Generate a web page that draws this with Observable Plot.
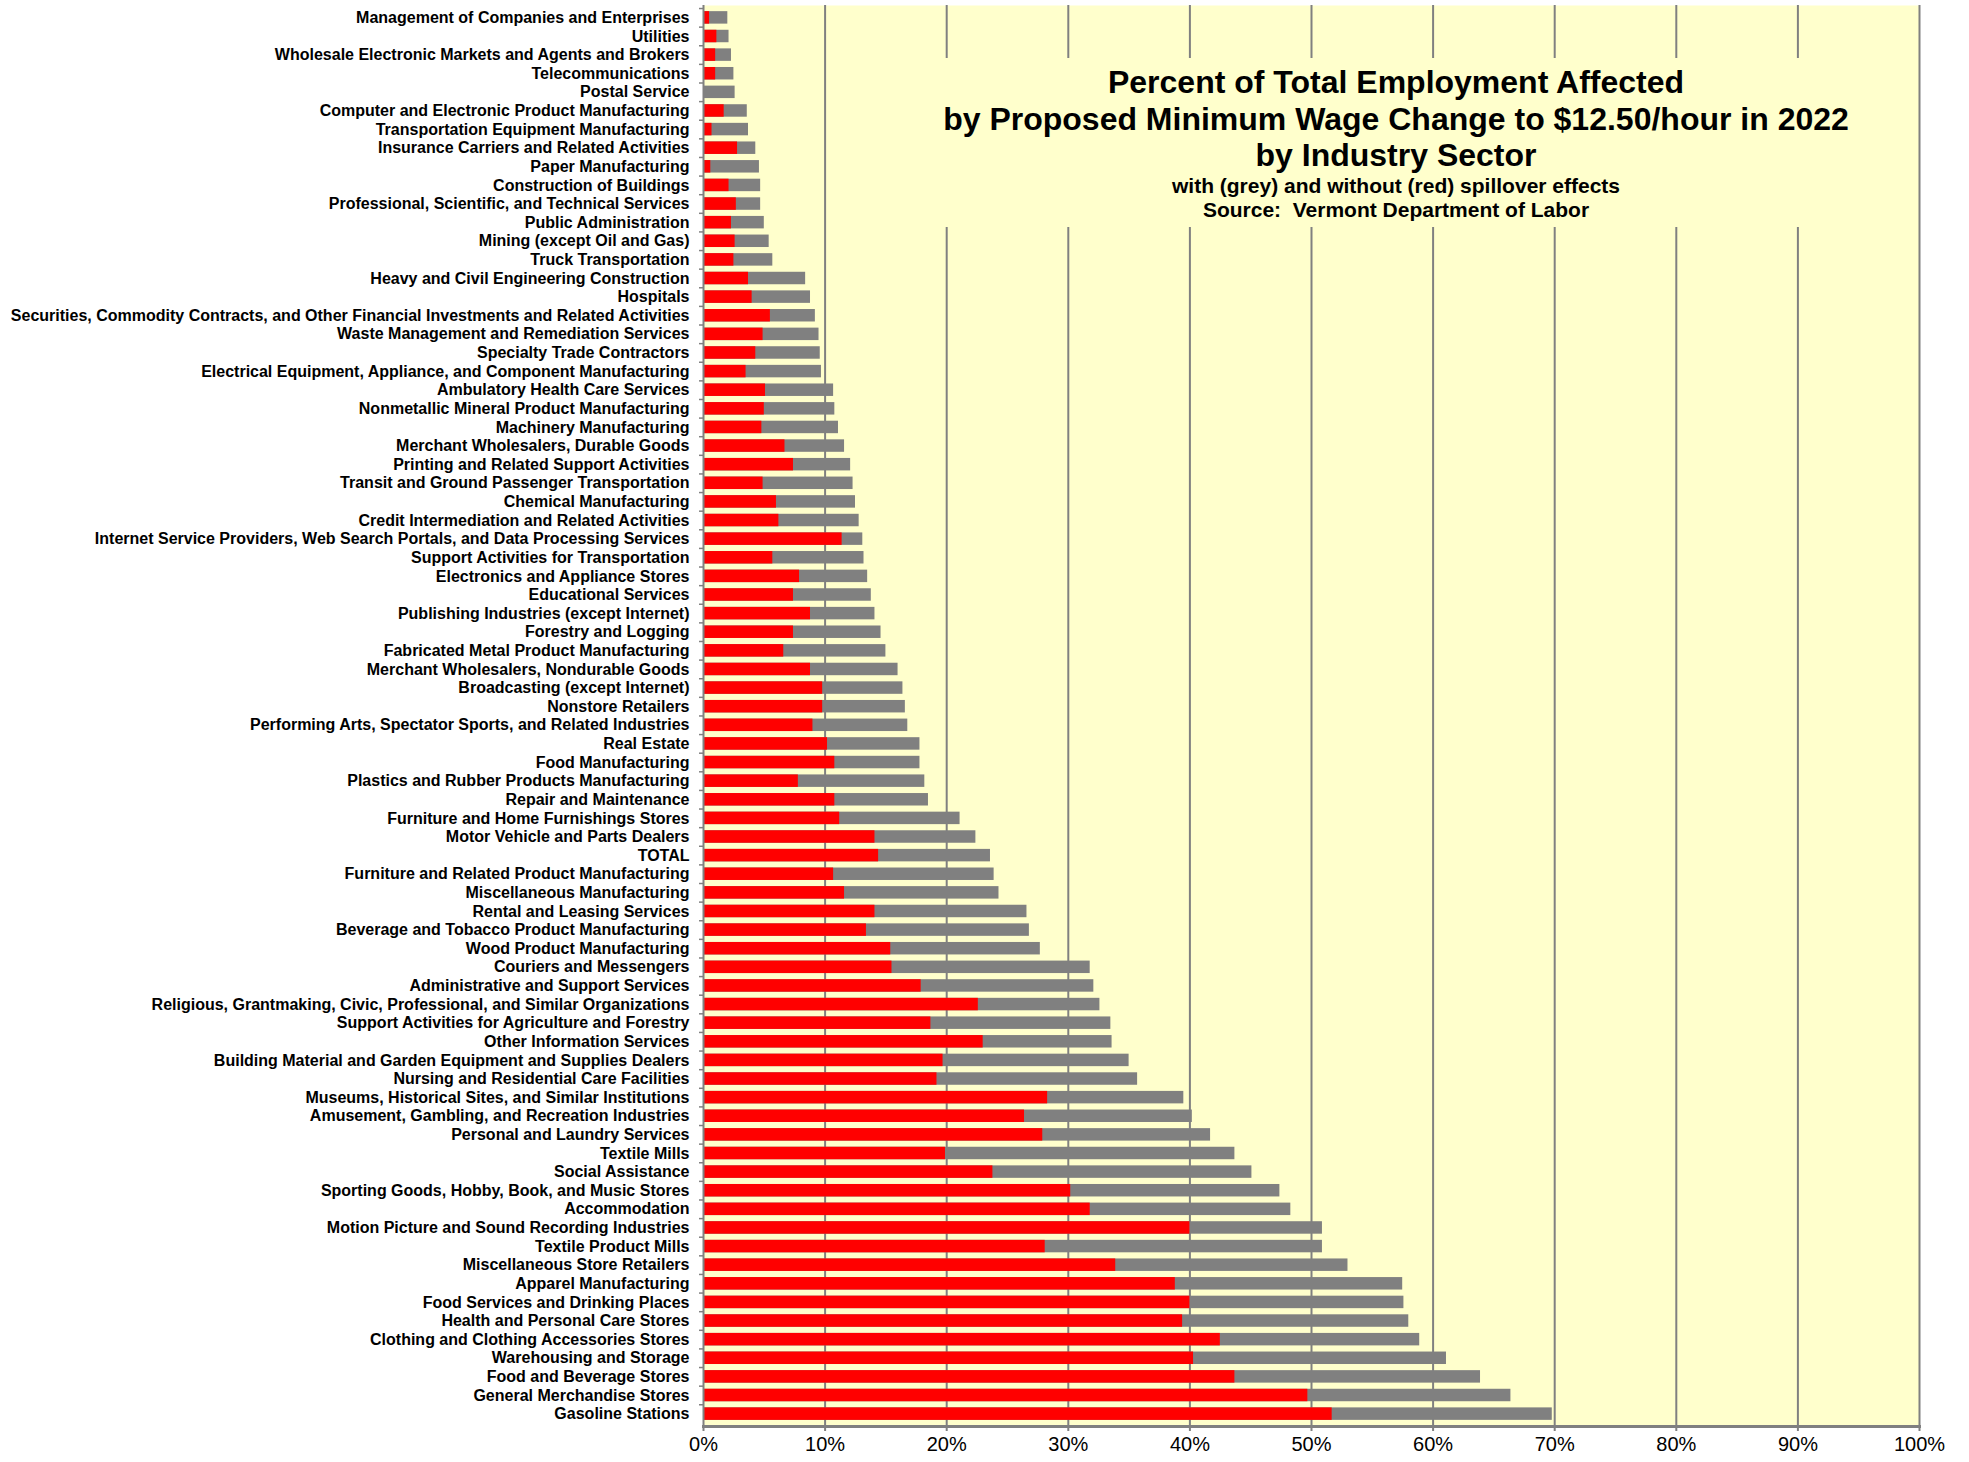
<!DOCTYPE html>
<html>
<head>
<meta charset="utf-8">
<script src="https://cdn.jsdelivr.net/npm/d3@7"></script>
<script src="https://cdn.jsdelivr.net/npm/@observablehq/plot@0.6"></script>
<style>
  html, body { margin: 0; padding: 0; background: #ffffff; }
  #wrap { position: relative; width: 1969px; height: 1462px; font-family: "Liberation Sans", Arial, sans-serif; }
  #titlebox {
    position: absolute; left: 880px; top: 58px; width: 1032px; height: 169px;
    background: #FFFFCC; text-align: center; color: #000; box-sizing: border-box; padding-top: 6px;
  }
  #titlebox .t { font-size: 32px; font-weight: bold; line-height: 36.5px; }
  #titlebox .s { font-size: 21px; font-weight: bold; line-height: 24px; }
</style>
</head>
<body>
<div id="wrap">
  <div id="chart"></div>
  <div id="titlebox">
    <div class="t">Percent of Total Employment Affected<br>by Proposed Minimum Wage Change to $12.50/hour in 2022<br>by Industry Sector</div>
    <div class="s">with (grey) and without (red) spillover effects<br>Source:&nbsp; Vermont Department of Labor</div>
  </div>
</div>
<script>
const categories = [
  "Management of Companies and Enterprises",
  "Utilities",
  "Wholesale Electronic Markets and Agents and Brokers",
  "Telecommunications",
  "Postal Service",
  "Computer and Electronic Product Manufacturing",
  "Transportation Equipment Manufacturing",
  "Insurance Carriers and Related Activities",
  "Paper Manufacturing",
  "Construction of Buildings",
  "Professional, Scientific, and Technical Services",
  "Public Administration",
  "Mining (except Oil and Gas)",
  "Truck Transportation",
  "Heavy and Civil Engineering Construction",
  "Hospitals",
  "Securities, Commodity Contracts, and Other Financial Investments and Related Activities",
  "Waste Management and Remediation Services",
  "Specialty Trade Contractors",
  "Electrical Equipment, Appliance, and Component Manufacturing",
  "Ambulatory Health Care Services",
  "Nonmetallic Mineral Product Manufacturing",
  "Machinery Manufacturing",
  "Merchant Wholesalers, Durable Goods",
  "Printing and Related Support Activities",
  "Transit and Ground Passenger Transportation",
  "Chemical Manufacturing",
  "Credit Intermediation and Related Activities",
  "Internet Service Providers, Web Search Portals, and Data Processing Services",
  "Support Activities for Transportation",
  "Electronics and Appliance Stores",
  "Educational Services",
  "Publishing Industries (except Internet)",
  "Forestry and Logging",
  "Fabricated Metal Product Manufacturing",
  "Merchant Wholesalers, Nondurable Goods",
  "Broadcasting (except Internet)",
  "Nonstore Retailers",
  "Performing Arts, Spectator Sports, and Related Industries",
  "Real Estate",
  "Food Manufacturing",
  "Plastics and Rubber Products Manufacturing",
  "Repair and Maintenance",
  "Furniture and Home Furnishings Stores",
  "Motor Vehicle and Parts Dealers",
  "TOTAL",
  "Furniture and Related Product Manufacturing",
  "Miscellaneous Manufacturing",
  "Rental and Leasing Services",
  "Beverage and Tobacco Product Manufacturing",
  "Wood Product Manufacturing",
  "Couriers and Messengers",
  "Administrative and Support Services",
  "Religious, Grantmaking, Civic, Professional, and Similar Organizations",
  "Support Activities for Agriculture and Forestry",
  "Other Information Services",
  "Building Material and Garden Equipment and Supplies Dealers",
  "Nursing and Residential Care Facilities",
  "Museums, Historical Sites, and Similar Institutions",
  "Amusement, Gambling, and Recreation Industries",
  "Personal and Laundry Services",
  "Textile Mills",
  "Social Assistance",
  "Sporting Goods, Hobby, Book, and Music Stores",
  "Accommodation",
  "Motion Picture and Sound Recording Industries",
  "Textile Product Mills",
  "Miscellaneous Store Retailers",
  "Apparel Manufacturing",
  "Food Services and Drinking Places",
  "Health and Personal Care Stores",
  "Clothing and Clothing Accessories Stores",
  "Warehousing and Storage",
  "Food and Beverage Stores",
  "General Merchandise Stores",
  "Gasoline Stations"
];

// percent affected WITHOUT spillover effects (red)
const withoutSpillover = [
  0.5, 1.1, 1.0, 1.0, 0.0, 1.7, 0.7, 2.8, 0.6, 2.1,
  2.7, 2.3, 2.6, 2.5, 3.7, 4.0, 5.5, 4.9, 4.3, 3.5,
  5.1, 5.0, 4.8, 6.7, 7.4, 4.9, 6.0, 6.2, 11.4, 5.7,
  7.9, 7.4, 8.8, 7.4, 6.6, 8.8, 9.8, 9.8, 9.0, 10.2,
  10.8, 7.8, 10.8, 11.2, 14.1, 14.4, 10.7, 11.6, 14.1, 13.4,
  15.4, 15.5, 17.9, 22.6, 18.7, 23.0, 19.7, 19.2, 28.3, 26.4,
  27.9, 19.9, 23.8, 30.2, 31.8, 40.0, 28.1, 33.9, 38.8, 40.0,
  39.4, 42.5, 40.3, 43.7, 49.7, 51.7
];

// percent affected WITH spillover effects (grey)
const withSpillover = [
  2.0, 2.1, 2.3, 2.5, 2.6, 3.6, 3.7, 4.3, 4.6, 4.7,
  4.7, 5.0, 5.4, 5.7, 8.4, 8.8, 9.2, 9.5, 9.6, 9.7,
  10.7, 10.8, 11.1, 11.6, 12.1, 12.3, 12.5, 12.8, 13.1, 13.2,
  13.5, 13.8, 14.1, 14.6, 15.0, 16.0, 16.4, 16.6, 16.8, 17.8,
  17.8, 18.2, 18.5, 21.1, 22.4, 23.6, 23.9, 24.3, 26.6, 26.8,
  27.7, 31.8, 32.1, 32.6, 33.5, 33.6, 35.0, 35.7, 39.5, 40.2,
  41.7, 43.7, 45.1, 47.4, 48.3, 50.9, 50.9, 53.0, 57.5, 57.6,
  58.0, 58.9, 61.1, 63.9, 66.4, 69.8
];

const xTicks = [0, 10, 20, 30, 40, 50, 60, 70, 80, 90, 100];

const rows = categories.map((name, i) => ({
  name,
  without: withoutSpillover[i],
  withSpill: withSpillover[i]
}));

const marginTop = 5, marginBottom = 36, height = 1462;
const step = (height - marginTop - marginBottom) / categories.length;
const pct = d => d + "%";

const chart = Plot.plot({
  width: 1969,
  height: height,
  marginLeft: 703,
  marginRight: 50,
  marginTop: marginTop,
  marginBottom: marginBottom,
  style: { fontFamily: "'Liberation Sans', Arial, sans-serif", background: "transparent", color: "#000" },
  x: { domain: [0, 100], ticks: xTicks, tickFormat: pct, label: null },
  y: { domain: categories, padding: 0.33, label: null },
  marks: [
    Plot.frame({ fill: "#FFFFCC", stroke: null }),
    Plot.gridX(xTicks.slice(1), { stroke: "#808080", strokeOpacity: 1, strokeWidth: 2 }),
    Plot.barX(rows, { x: "withSpill", y: "name", fill: "#808080" }),
    Plot.barX(rows, { x: "without", y: "name", fill: "#FF0000" }),
    Plot.ruleX([0], { stroke: "#808080", strokeWidth: 2 }),
    Plot.axisY({ tickSize: 4, tickFormat: () => "", dy: -step / 2, stroke: "#808080", strokeWidth: 1.5 }),
    Plot.axisY({ tickSize: 0, tickPadding: 14, fontSize: 16, fontWeight: "bold", fill: "#000" }),
    Plot.axisX(xTicks, { tickSize: 5, tickPadding: 5, fontSize: 20, tickFormat: pct, stroke: "#808080", strokeWidth: 2, fill: "#000" }),
    Plot.frame({ anchor: "bottom", stroke: "#808080", strokeWidth: 3 })
  ]
});

document.getElementById("chart").appendChild(chart);
</script>
</body>
</html>
